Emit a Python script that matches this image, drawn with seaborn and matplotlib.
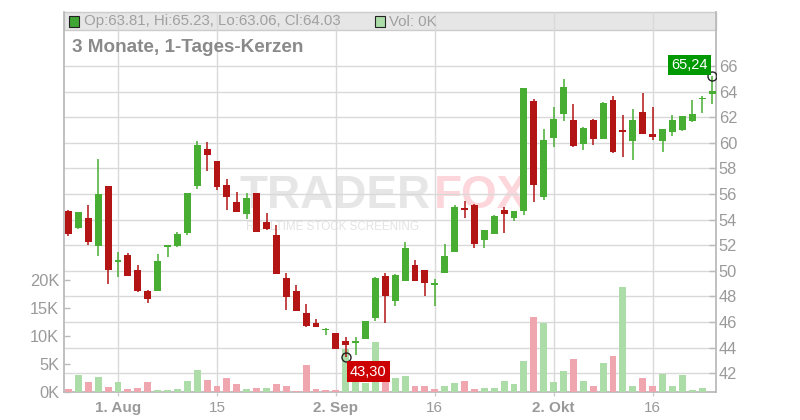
import numpy as np
import pandas as pd
import seaborn as sns
import matplotlib
matplotlib.use('Agg')
import matplotlib.pyplot as plt
from matplotlib.patches import Rectangle

# daily candles, 25 Jul 2024 - 24 Oct 2024
opens = [54.67, 53.34, 54.13, 51.96, 56.63, 50.72, 51.23, 50.06, 48.42, 48.42,
         51.89, 51.96, 52.98, 56.65, 59.52, 58.58, 56.70, 55.38, 54.46, 56.08,
         53.81, 52.80, 49.44, 48.42, 46.70, 45.92, 45.37, 45.14, 44.52, 44.39,
         44.70, 46.34, 49.59, 47.64, 49.23, 50.43, 50.06, 48.92, 49.86, 51.49,
         54.91, 55.14, 52.41, 52.90, 54.75, 54.15, 54.70, 63.27, 55.79, 60.40,
         62.28, 61.78, 59.93, 61.78, 60.32, 63.34, 61.00, 60.17, 62.41, 60.69,
         60.17, 60.87, 61.03, 61.73, 63.42, 63.81]
highs = [54.75, 54.60, 55.14, 58.73, 56.65, 51.47, 51.39, 50.45, 48.50, 51.31,
         52.05, 53.03, 56.10, 60.14, 60.06, 58.60, 57.17, 56.16, 56.08, 56.10,
         54.52, 53.58, 49.83, 48.89, 47.41, 46.23, 45.50, 45.15, 44.80, 44.80,
         46.10, 49.54, 49.83, 49.77, 52.25, 50.87, 50.10, 49.36, 52.10, 55.14,
         55.45, 55.20, 53.20, 54.39, 55.01, 54.70, 64.30, 63.42, 61.08, 62.80,
         64.98, 63.03, 61.23, 61.86, 63.19, 63.66, 62.17, 62.64, 63.89, 62.80,
         61.10, 62.17, 62.10, 63.34, 63.66, 65.24]
lows = [52.72, 53.30, 52.02, 51.16, 48.97, 49.54, 49.60, 48.34, 47.51, 48.40,
        51.10, 51.89, 52.82, 56.42, 57.82, 56.34, 54.75, 54.60, 54.07, 53.00,
        53.21, 49.75, 46.94, 46.85, 45.64, 45.60, 44.96, 43.90, 43.30, 43.40,
        44.70, 46.11, 45.95, 47.22, 49.20, 49.20, 48.06, 47.25, 49.86, 51.45,
        54.15, 51.81, 51.81, 52.90, 52.98, 53.92, 54.39, 55.40, 55.56, 59.67,
        61.73, 59.67, 59.44, 59.85, 60.30, 59.23, 58.92, 58.68, 60.70, 60.25,
        59.31, 60.56, 60.95, 61.63, 62.35, 63.06]
closes = [52.90, 54.59, 52.25, 56.00, 50.06, 50.84, 49.62, 48.42, 47.80, 50.77,
          52.02, 52.88, 56.08, 59.83, 59.07, 56.57, 55.79, 54.62, 55.69, 53.06,
          53.29, 49.78, 47.98, 46.89, 45.71, 45.64, 45.48, 43.92, 44.23, 44.49,
          46.08, 49.44, 48.06, 49.67, 51.78, 49.23, 49.06, 49.02, 51.16, 55.01,
          54.72, 52.12, 53.19, 54.28, 54.46, 54.67, 64.28, 56.73, 60.22, 61.86,
          64.36, 59.75, 61.16, 60.32, 63.11, 59.31, 60.87, 61.78, 60.71, 60.48,
          61.08, 61.78, 62.09, 62.25, 63.53, 64.03]
volume_k = [0.59, 3.09, 1.84, 2.73, 0.95, 1.84, 0.59, 0.77, 1.84, 0.41,
            0.41, 0.59, 2.02, 3.98, 2.20, 1.13, 2.55, 1.48, 0.59, 0.77,
            0.77, 1.48, 1.13, 0.23, 4.87, 0.50, 0.45, 0.41, 7.73, 2.02,
            1.66, 8.98, 2.02, 2.55, 2.91, 1.20, 1.13, 0.59, 1.20, 1.66,
            2.02, 0.59, 0.77, 0.70, 2.02, 1.48, 5.59, 13.45, 12.38, 1.84,
            3.86, 6.00, 2.02, 1.13, 5.16, 6.43, 18.80, 1.13, 2.55, 1.20,
            3.27, 1.20, 3.00, 0.41, 0.77, 0.00]
header_ohlc = [63.81, 65.23, 63.06, 64.03]
header_vol = '0K'

tick_dates = ['2024-08-01', '2024-08-15', '2024-09-02', '2024-09-16', '2024-10-02', '2024-10-16']
tick_labels = ['1. Aug', '15', '2. Sep', '16', '2. Okt', '16']
bold_labels = ['1. Aug', '2. Sep', '2. Okt']
vol_ticks = [0, 5, 10, 15, 20]
price_ticks = list(range(42, 67, 2))

dates = pd.bdate_range('2024-07-25', '2024-10-24')
df = pd.DataFrame({'date': dates, 'open': opens, 'high': highs, 'low': lows,
                   'close': closes, 'vol': volume_k})
df['idx'] = np.arange(len(df))
prev = df['close'].shift(1).fillna(df['open'])
df['dir'] = np.where(df['close'] >= prev, 'up', 'down')
tick_pos = [int(np.where(dates == pd.Timestamp(d))[0][0]) for d in tick_dates]

GREEN, RED = '#47ad33', '#b31515'
VGREEN, VRED = '#acdca8', '#f0a6ae'
GRID = '#d9d9d9'
TXT = '#9a9a9a'

sns.set_style('white')
plt.rcParams['font.family'] = ['Liberation Sans', 'DejaVu Sans']

W, H = 800, 420
L, R, T, B = 63.5, 716, 12, 392.3
fig = plt.figure(figsize=(8, 4.2), dpi=100)
rect = [L / W, (H - B) / H, (R - L) / W, (B - T) / H]

def px(x, y):
    return x / W, 1 - y / H

# price axis (grid, right labels)
ax_p = fig.add_axes(rect)
ax_p.set_facecolor('none')
# volume axis
ax_v = ax_p.twinx()
ax_v.set_facecolor('none')
sns.barplot(data=df, x='idx', y='vol', hue='dir', palette={'up': VGREEN, 'down': VRED},
            native_scale=True, dodge=False, width=0.7, saturation=1, errorbar=None,
            legend=False, linewidth=0, ax=ax_v)
# candle layer
ax_c = fig.add_axes(rect, sharex=ax_p, sharey=ax_p)
ax_c.set_facecolor('none')

up = df['close'] >= df['open']
cols = np.where(up, GREEN, RED)
body = (df['close'] - df['open']).abs()
body_h = np.maximum(body, 0.13)
mid = (df['close'] + df['open']) / 2
ax_c.vlines(df['idx'], df['low'], df['high'], colors=cols, lw=1.1, zorder=3)
ax_c.bar(df['idx'], body_h, bottom=mid - body_h / 2, width=0.7, color=cols, lw=0, zorder=4)

# min / max markers
imax = int(df['high'].idxmax())
imin = int(df['low'].idxmin())
hi, lo = df['high'][imax], df['low'][imin]
ax_c.plot([imax, imin], [hi, lo], 'o', ms=6.5, mfc='none', mec='#222222', mew=1, zorder=6)
ax_c.annotate(f'{hi:.2f}'.replace('.', ','), xy=(imax, hi), xytext=(-4, 4),
              textcoords='offset pixels', ha='right', va='bottom', color='white', fontsize=10.5,
              bbox=dict(boxstyle='square,pad=0.22', fc='#009900', ec='none'), zorder=7)
ax_c.annotate(f'{lo:.2f}'.replace('.', ','), xy=(imin, lo), xytext=(4, -8),
              textcoords='offset pixels', ha='left', va='top', color='white', fontsize=10.5,
              bbox=dict(boxstyle='square,pad=0.22', fc='#cc0000', ec='none'), zorder=7)
ax_c.axis('off')

ax_p.set_xlim(-0.505, 65.4)
ax_p.set_ylim(40.51, 70.22)
ax_v.set_ylim(0, 67.9)

ax_p.set_xticks(tick_pos)
ax_p.set_xticklabels(tick_labels)
for t in ax_p.get_xticklabels():
    if t.get_text() in bold_labels:
        t.set_fontweight('bold')
ax_p.yaxis.tick_right()
ax_p.set_yticks(price_ticks)
ax_p.grid(True, color=GRID, lw=1)
ax_p.tick_params(axis='x', direction='out', length=3, width=1, color='#cccccc',
                 labelsize=11, labelcolor=TXT, pad=3, bottom=True)
ax_p.tick_params(axis='y', direction='in', length=5, width=1, color='#bbbbbb',
                 labelsize=11.8, labelcolor=TXT, pad=2, right=True, left=False)

ax_v.yaxis.tick_left()
ax_v.set_yticks(vol_ticks)
ax_v.set_yticklabels([f'{v}K' for v in vol_ticks])
ax_v.tick_params(axis='y', direction='in', length=4, width=1, color='#bbbbbb',
                 labelsize=11.8, labelcolor=TXT, pad=3, left=True, right=False)
ax_v.grid(False)
ax_v.set_xlabel('')
ax_v.set_ylabel('')
ax_p.set_xlabel('')

for s in ax_v.spines.values():
    s.set_visible(False)
ax_p.spines['top'].set_visible(False)
for s in ['left', 'bottom', 'right']:
    ax_p.spines[s].set_color('#bbbbbb')
    ax_p.spines[s].set_linewidth(1.3)

# watermark
fig.text(*px(240, 208.5), 'TRADER', fontsize=33, fontweight='bold', color='#e6e6e6',
         va='baseline', zorder=-1)
fig.text(*px(434, 208.5), 'FOX', fontsize=33, fontweight='bold', color='#fcd6da',
         va='baseline', zorder=-1)
fig.text(*px(246, 230), 'REALTIME STOCK SCREENING', fontsize=8.4, color='#e3e3e3',
         va='baseline', zorder=-1)

# header bar
fig.add_artist(Rectangle(px(L, 30), (R - L) / W, 18 / H, transform=fig.transFigure,
                         fc='#e6e6e6', ec='#cccccc', lw=1, zorder=-1))
fig.add_artist(Rectangle(px(68.5, 26.5), 10 / W, 10 / H, transform=fig.transFigure,
                         fc='#3fa535', ec='#222222', lw=0.8))
fig.add_artist(Rectangle(px(375, 26.5), 10 / W, 10 / H, transform=fig.transFigure,
                         fc=VGREEN, ec='#222222', lw=0.8))
o, h, l, c = header_ohlc
fig.text(*px(84, 21.5), f'Op:{o:.2f}, Hi:{h:.2f}, Lo:{l:.2f}, Cl:{c:.2f}',
         fontsize=10.8, color='#a0a0a0', va='center')
fig.text(*px(389, 21.5), f'Vol: {header_vol}', fontsize=10.8, color='#a0a0a0', va='center')
fig.text(*px(72, 47.5), '3 Monate, 1-Tages-Kerzen', fontsize=13.6, fontweight='bold',
         color='#8a8a8a', va='center')

fig.savefig('out.png', dpi=100)
